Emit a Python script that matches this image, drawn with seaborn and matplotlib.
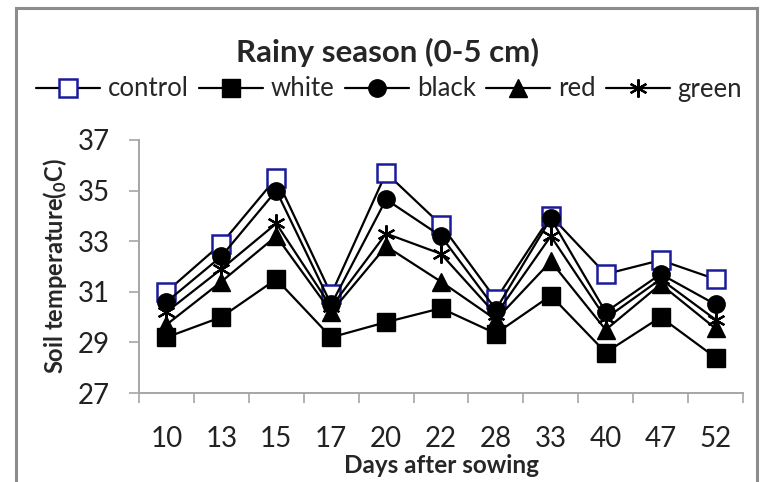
import numpy as np
import pandas as pd
import matplotlib
matplotlib.use("Agg")
import matplotlib.pyplot as plt
import seaborn as sns
from matplotlib.patches import Rectangle
from matplotlib.lines import Line2D

days = ["10", "13", "15", "17", "20", "22", "28", "33", "40", "47", "52"]
control = [31.0, 32.9, 35.5, 30.9, 35.7, 33.65, 30.7, 34.0, 31.7, 32.25, 31.5]
white = [29.2, 30.0, 31.5, 29.2, 29.8, 30.35, 29.35, 30.85, 28.6, 30.0, 28.4]
black = [30.6, 32.4, 35.0, 30.5, 34.65, 33.2, 30.3, 33.9, 30.2, 31.7, 30.5]
red = [29.7, 31.4, 33.2, 30.2, 32.8, 31.4, 29.9, 32.2, 29.5, 31.3, 29.55]
green = [30.2, 31.9, 33.7, 30.4, 33.3, 32.5, 30.1, 33.2, 29.95, 31.5, 29.9]

series = {"control": control, "white": white, "black": black, "red": red, "green": green}
styles = {
    "control": dict(marker="s", ms=12.5, mfc="white", mec="#1a1a9a", mew=1.8),
    "white": dict(marker="s", ms=12.5, mfc="black", mec="black", mew=1),
    "black": dict(marker="o", ms=12.5, mfc="black", mec="black", mew=1),
    "red": dict(marker="^", ms=12.5, mfc="black", mec="black", mew=1),
    "green": dict(marker=(6, 2, 0), ms=13, mfc="black", mec="black", mew=1.6),
}

sns.set_theme(style="white")
plt.rcParams["font.family"] = ["Lato", "DejaVu Sans"]
plt.rcParams["mathtext.default"] = "regular"

fig = plt.figure(figsize=(7.6, 4.82), dpi=100)
ax = fig.add_axes([139 / 760, 1 - 393 / 482, (743 - 139) / 760, (393 - 140) / 482])

pos = np.arange(len(days))
handles = []
for name, vals in series.items():
    df = pd.DataFrame({"pos": pos, "temp": vals})
    sns.lineplot(data=df, x="pos", y="temp", ax=ax, color="black", lw=1.6,
                 **styles[name])
    handles.append(Line2D([], [], color="black", lw=1.6, **styles[name]))

ax.set_xlim(-0.5, len(days) - 0.5)
ax.set_ylim(27, 37)
ax.set_yticks(np.arange(27, 38, 2))
ax.set_xticks(pos)
ax.set_xticklabels(days)
ax.set_xticks(np.arange(-0.5, len(days), 1.0), minor=True)

grey = "#a6a6a6"
for side in ["top", "right"]:
    ax.spines[side].set_visible(False)
for side in ["left", "bottom"]:
    ax.spines[side].set_color(grey)
    ax.spines[side].set_linewidth(1.4)

ax.tick_params(axis="x", which="major", length=0, pad=24, labelsize=20, colors="#222222")
ax.tick_params(axis="x", which="minor", length=7, width=1.2, color=grey, bottom=True, direction="out")
ax.tick_params(axis="y", which="major", length=7, width=1.2, color=grey, left=True,
               direction="out", pad=14, labelsize=20, labelcolor="#222222")

ax.set_xlabel("Days after sowing", fontsize=17.5, fontweight="bold", labelpad=1)
ax.set_ylabel("Soil temperature($_0$C)", fontsize=17, fontweight="bold", labelpad=6)

fig.text(388 / 760, 1 - 52 / 482, "Rainy season (0-5 cm)", ha="center", va="center",
         fontsize=22.5, fontweight="bold")
fig.legend(handles, list(series.keys()), loc="center", bbox_to_anchor=(389 / 760, 1 - 89 / 482),
           ncol=5, frameon=False, fontsize=18.5, handlelength=2.5, handletextpad=0.3,
           columnspacing=0.4, borderaxespad=0, borderpad=0)

fig.patches.append(Rectangle((16 / 760, -0.05), (757 - 16) / 760, 1.05 - 8 / 482,
                             transform=fig.transFigure, fill=False, ec="#8c8c8c", lw=2.2))

fig.savefig("out.png", dpi=100)
